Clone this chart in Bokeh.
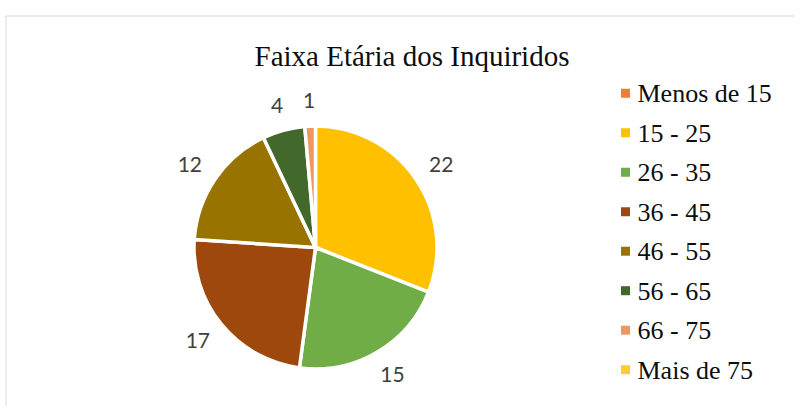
import math
from bokeh.plotting import figure
from bokeh.models import Range1d, ColumnDataSource
from bokeh.core.properties import value
from bokeh.embed import file_html
from bokeh.resources import INLINE

# ---- data ----
title_text = "Faixa Etária dos Inquiridos"
categories = ["Menos de 15", "15 - 25", "26 - 35", "36 - 45", "46 - 55", "56 - 65", "66 - 75", "Mais de 75"]
counts = [0, 22, 15, 17, 12, 4, 1, 0]
colors = ["#ED7D31", "#FFC000", "#70AD47", "#9E480E", "#997300", "#43682B", "#F1975A", "#FFCD33"]

# ---- layout (1 data unit = 1 px; y measured from top via sy) ----
W, H = 795, 406
def sy(y):
    return H - y

p = figure(width=W, height=H, x_range=Range1d(0, W), y_range=Range1d(0, H),
           output_backend="svg", toolbar_location=None, min_border=0,
           x_axis_location=None, y_axis_location=None)
p.grid.visible = False
p.outline_line_color = None
p.background_fill_color = "white"
p.border_fill_color = "white"

# chart area border
p.line([5.5, W], [sy(15.5), sy(15.5)], line_color="#D9D9D9", line_width=1)
p.line([5.5, 5.5], [sy(15.5), 0], line_color="#D9D9D9", line_width=1)

# title
p.text(x=[411.5], y=[sy(55)], text=[title_text], text_font=value("Liberation Serif"),
       text_font_size="29px", text_color="#0D0D0D", text_align="center", text_baseline="middle")

# pie
cx, cy, R = 315, sy(247), 121.5
total = sum(counts)
starts, ends, cols, labs, lx, ly = [], [], [], [], [], []
cum = 0
for c, col in zip(counts, colors):
    a0 = cum / total * 2 * math.pi
    cum += c
    a1 = cum / total * 2 * math.pi
    if c > 0:
        starts.append(math.pi / 2 - a0)
        ends.append(math.pi / 2 - a1)
        cols.append(col)
        mid = (a0 + a1) / 2
        dx, dy = math.sin(mid), math.cos(mid)
        hw = 6 * len(str(c))
        lx.append(cx + dx * 140 + dx * hw)
        ly.append(cy + dy * 138 + dy * 9)
        labs.append(str(c))

src = ColumnDataSource(dict(start=starts, end=ends, color=cols))
p.wedge(x=cx, y=cy, radius=R, start_angle="start", end_angle="end", direction="clock",
        fill_color="color", line_color="white", line_width=3.5, source=src)

p.text(x=lx, y=ly, text=labs, text_font=value("Lato"), text_font_size="21px",
       text_color="#404040", text_align="center", text_baseline="middle")

# legend
rows = list(range(len(categories)))
p.scatter(x=[625] * len(rows), y=[sy(92.7 + 39.5 * i) for i in rows], marker="square",
          size=9, fill_color=colors, line_color=None)
p.text(x=[637] * len(rows), y=[sy(93 + 39.5 * i) for i in rows], text=categories,
       text_font=value("Liberation Serif"), text_font_size="26px", text_color="#0D0D0D",
       text_align="left", text_baseline="middle")

open("out.html", "w").write(file_html(p, INLINE))
